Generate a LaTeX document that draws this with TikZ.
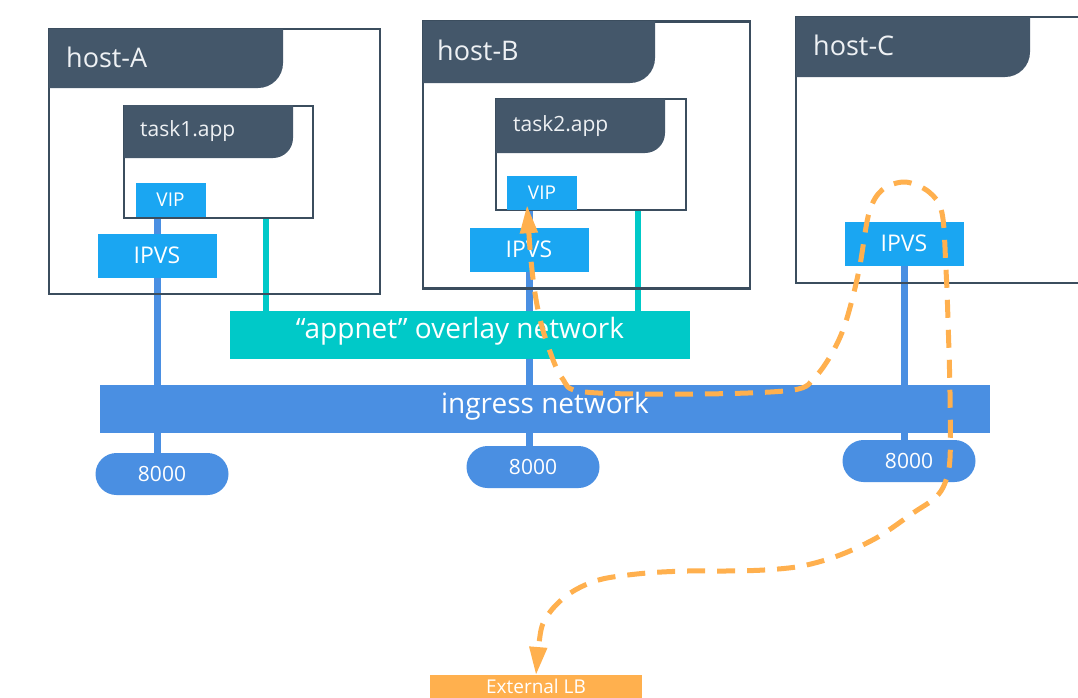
\documentclass[tikz,border=0pt]{standalone}
\usepackage{fontspec}
\setmainfont{Open Sans}
\usetikzlibrary{arrows.meta,backgrounds,calc}
\definecolor{hdr}{HTML}{44576A}
\definecolor{frame}{HTML}{3B4D5E}
\definecolor{hdrtxt}{HTML}{EEF1F4}
\definecolor{lblue}{HTML}{1AA6F2}
\definecolor{nblue}{HTML}{4A8FE2}
\definecolor{appteal}{HTML}{00C9C8}
\definecolor{orng}{HTML}{FFB04E}
\newcommand\hdrtab[5]{\fill[hdr] (#1,#2) -- (#3,#2) -- (#3,{#4-#5}) arc[start angle=0,end angle=-90,radius=#5pt] -- (#1,#4) -- cycle;}
\tikzset{
 hostbox/.style={draw=frame, line width=2.2pt, inner sep=0pt},
 taskbox/.style={draw=frame, line width=2pt, inner sep=0pt},
 hosttext/.style={text=hdrtxt, anchor=west, inner sep=0pt, font=\fontsize{27}{32}\selectfont},
 tasktext/.style={text=hdrtxt, anchor=west, inner sep=0pt, font=\fontsize{21}{25}\selectfont},
 vipbox/.style={fill=lblue, text=white, inner sep=0pt, minimum width=70pt, minimum height=34pt, font=\fontsize{19}{21}\selectfont},
 ipvsbox/.style={fill=lblue, text=white, inner sep=0pt, minimum width=119pt, minimum height=44pt, font=\fontsize{23}{26}\selectfont},
 pill/.style={fill=nblue, text=white, inner sep=0pt, rounded corners=21pt, minimum width=133pt, minimum height=42pt, font=\fontsize{21}{23}\selectfont},
 netbar/.style={inner sep=0pt, text=white, font=\fontsize{28}{32}\selectfont},
 vline/.style={draw=nblue, line width=7pt},
 tline/.style={draw=appteal, line width=6pt},
 flow/.style={draw=orng, line width=5pt, dash pattern=on 18pt off 12pt, line join=round,
   arrows={Triangle[length=28pt,width=17pt]-Triangle[length=28pt,width=17pt]}}
}
\begin{document}
\begin{tikzpicture}[x=1pt,y=-1pt]
\begin{pgfonlayer}{background}
\fill[white] (0,0) rectangle (1078,697);
\end{pgfonlayer}
\clip (0,0) rectangle (1078,697);
% hosts
\node[hostbox, minimum width=331pt, minimum height=265pt] (hostA) at (214.5,161.5) {};
\hdrtab{49}{29}{283}{88}{25}
\node[hosttext] (hostAlbl) at (66,57) {host-A};
\node[hostbox, minimum width=327pt, minimum height=267pt] (hostB) at (586.5,155) {};
\hdrtab{423}{21}{655}{83}{25}
\node[hosttext] (hostBlbl) at (437,50) {host-B};
\node[hostbox, minimum width=310pt, minimum height=266pt] (hostC) at (951,150) {};
\hdrtab{796}{17}{1030}{77}{25}
\node[hosttext] (hostClbl) at (813,45) {host-C};
% tasks
\node[taskbox, minimum width=189pt, minimum height=112pt] (task1) at (218.5,161.5) {};
\hdrtab{124}{105}{293}{158}{20}
\node[tasktext] (task1lbl) at (140,131) {task1.app};
\node[taskbox, minimum width=190pt, minimum height=111pt] (task2) at (591,154.5) {};
\hdrtab{496}{99}{665}{153}{20}
\node[tasktext] (task2lbl) at (513,126) {task2.app};
% VIP / IPVS
\node[vipbox] (vipA) at (170.5,200) {VIP};
\node[vipbox] (vipB) at (542,193) {VIP};
\node[ipvsbox] (ipvsA) at (157,255.5) {IPVS};
\node[ipvsbox] (ipvsB) at (529,249.5) {IPVS};
\node[ipvsbox] (ipvsC) at (904,243.5) {IPVS};
% networks
\node[netbar, fill=appteal, minimum width=460pt, minimum height=48pt] (appnet) at (460,335) {};
\node[netbar] (appnetlbl) at (460,331) {“appnet” overlay network};
\node[netbar, fill=nblue, minimum width=890pt, minimum height=48pt] (ingress) at (545,409) {};
\node[netbar] (ingresslbl) at (545,406) {ingress network};
% ports
\node[pill] (pillA) at (162,474) {8000};
\node[pill] (pillB) at (533,467) {8000};
\node[pill] (pillC) at (909,461) {8000};
% external LB
\node[fill=orng, anchor=north, minimum width=212pt, minimum height=44pt, inner sep=0pt] (lb) at (536,675) {};
\node[text=white, inner sep=0pt, font=\fontsize{19}{22}\selectfont] (lblbl) at (536,686.5) {External LB};
% connector lines
\coordinate (tA) at (266,218);
\coordinate (tB) at (638,210);
\begin{pgfonlayer}{background}
\draw[vline] (vipA.south -| ipvsA.north) -- (pillA.north -| ipvsA.north);
\draw[vline] (vipB.south -| ipvsB.north) -- (pillB.north -| ipvsB.north);
\draw[vline] (ipvsC.south) -- (pillC.north -| ipvsC.south);
\draw[tline] (tA) -- (tA |- appnet.north);
\draw[tline] (tB) -- (tB |- appnet.north);
\end{pgfonlayer}
% traffic flow
\draw[flow] plot[smooth, tension=0.55] coordinates {
 ([xshift=-15pt,yshift=5pt]vipB.south) (532,270) (538,310) (547,343) (562,378) (585,392)
 (700,394) (793,390) (815,377) (831,355) (843,330) (852,300) (860,265) (869,213)
 (882,190) (905,182) (929,192) (942,213) (946,270) (948,320) (950,393) (950,458)
 (945,483) (935,498) (913,513) (878,537) (840,555) (802,566) (764,570) (725,571)
 (687,571) (647,573) (607,578) (585,585) (566,596) (550,612) (541,630) (lb.north)};
\end{tikzpicture}
\end{document}
